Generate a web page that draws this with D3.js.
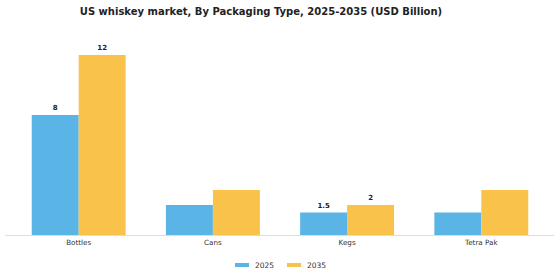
<!DOCTYPE html>
<html>
<head>
<meta charset="utf-8">
<script src="https://cdn.jsdelivr.net/npm/d3@7"></script>
<style>
  body { margin: 0; background: #fff; }
  text { font-family: "DejaVu Sans", sans-serif; }
</style>
</head>
<body>
<div id="chart"></div>
<script>
const categories = ["Bottles", "Cans", "Kegs", "Tetra Pak"];
const years = ["2025", "2035"];
const values2025 = [8, 2, 1.5, 1.5];
const values2035 = [12, 3, 2, 3];
// only some bars carry a label in the original
const labels2025 = ["8", null, "1.5", null];
const labels2035 = ["12", null, "2", null];

const colors = ["#5bb4e6", "#f9c24a"];
const width = 560, height = 280;

const svg = d3.select("#chart").append("svg")
    .attr("width", width)
    .attr("height", height);

const x = d3.scaleBand()
    .domain(categories)
    .range([11.6, 548.4])
    .paddingInner(0.3)
    .paddingOuter(0.15);

const xs = d3.scaleBand()
    .domain(years)
    .range([0, x.bandwidth()]);

const y = d3.scaleLinear()
    .domain([0, 12])
    .range([235, 55]);

svg.append("text")
    .attr("x", 261)
    .attr("y", 14.5)
    .attr("text-anchor", "middle")
    .attr("font-size", 10)
    .attr("font-weight", "bold")
    .attr("fill", "#222")
    .text("US whiskey market, By Packaging Type, 2025-2035 (USD Billion)");

const rows = categories.map((c, i) => ({
    cat: c,
    bars: [
        {year: "2025", value: values2025[i], label: labels2025[i]},
        {year: "2035", value: values2035[i], label: labels2035[i]}
    ]
}));

const groups = svg.append("g")
    .selectAll("g")
    .data(rows)
    .join("g")
    .attr("transform", d => `translate(${x(d.cat)},0)`);

groups.selectAll("rect")
    .data(d => d.bars)
    .join("rect")
    .attr("x", d => xs(d.year))
    .attr("y", d => y(d.value))
    .attr("width", xs.bandwidth())
    .attr("height", d => y(0) - y(d.value))
    .attr("fill", (d, i) => colors[i]);

groups.selectAll("text")
    .data(d => d.bars.filter(b => b.label))
    .join("text")
    .attr("x", d => xs(d.year) + xs.bandwidth() / 2)
    .attr("y", d => y(d.value) - 5)
    .attr("text-anchor", "middle")
    .attr("font-size", 7)
    .attr("font-weight", "bold")
    .attr("fill", "#222")
    .text(d => d.label);

// baseline
svg.append("line")
    .attr("x1", 5)
    .attr("x2", 554)
    .attr("y1", y(0) + 0.5)
    .attr("y2", y(0) + 0.5)
    .attr("stroke", "#ddd")
    .attr("stroke-width", 1);

svg.append("g")
    .selectAll("text")
    .data(categories)
    .join("text")
    .attr("x", d => x(d) + x.bandwidth() / 2)
    .attr("y", 245)
    .attr("text-anchor", "middle")
    .attr("font-size", 7.2)
    .attr("fill", "#333")
    .text(d => d);

// legend
const legend = svg.append("g")
    .selectAll("g")
    .data(years)
    .join("g")
    .attr("transform", (d, i) => `translate(${235 + i * 52},0)`);

legend.append("rect")
    .attr("x", 0)
    .attr("y", 263)
    .attr("width", 14)
    .attr("height", 4)
    .attr("fill", (d, i) => colors[i]);

legend.append("text")
    .attr("x", 20)
    .attr("y", 267.5)
    .attr("font-size", 7.5)
    .attr("fill", "#333")
    .text(d => d);
</script>
</body>
</html>
